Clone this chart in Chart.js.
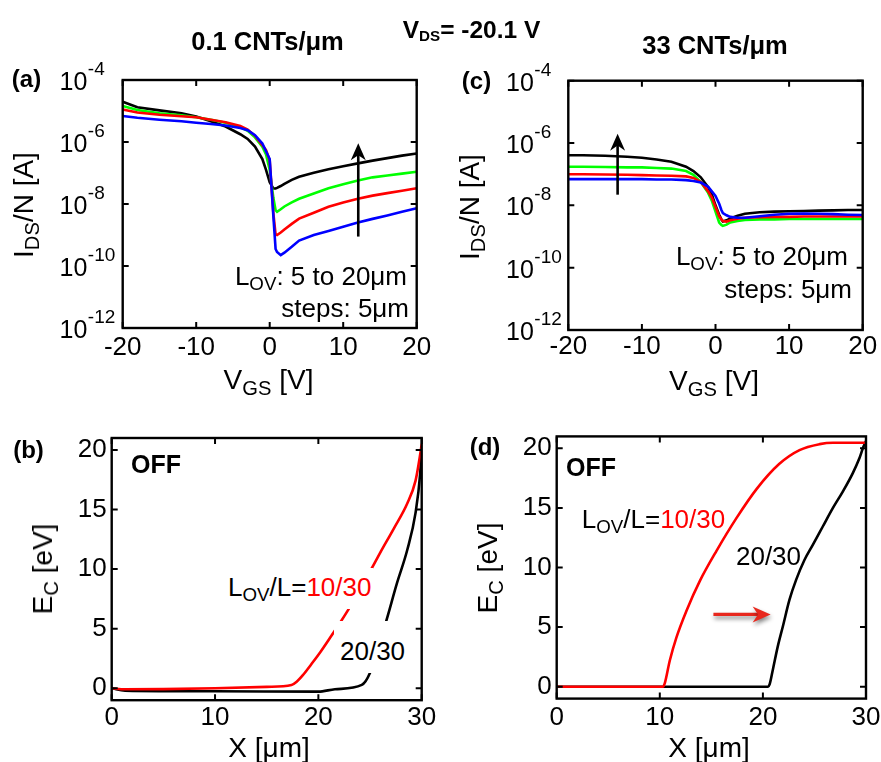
<!DOCTYPE html>
<html>
<head>
<meta charset="utf-8">
<title>CNT TFT transfer curves and band profiles</title>
<script src="https://cdn.jsdelivr.net/npm/chart.js@4.4.1/dist/chart.umd.min.js"></script>
<style>
html,body{margin:0;padding:0;background:#fff;}
#wrap{position:relative;width:881px;height:762px;overflow:hidden;background:#fff;font-family:"Liberation Sans",Arial,Helvetica,sans-serif;color:#000;}
#wrap canvas{position:absolute;left:0;top:0;}
.t{position:absolute;white-space:nowrap;line-height:1;}
.sub{font-size:0.72em;position:relative;top:0.28em;}
.sub2{font-size:0.62em;position:relative;top:0.22em;}
</style>
</head>
<body>
<div id="wrap">
<canvas id="cA" width="881" height="762"></canvas>
<canvas id="cB" width="881" height="762"></canvas>
<canvas id="cC" width="881" height="762"></canvas>
<canvas id="cD" width="881" height="762"></canvas>
</div>
<script>
// ================= DATA =================
// Panels (a) and (c): gate voltage V_GS [V]
const vgs = [-20,-18,-15,-12,-10,-8,-6,-4,-3,-2,-1,-0.5,0,0.5,0.8,1,1.5,2,3,4,6,8,10,12,14,16,18,20];
// log10 of I_DS/N [A]; series L_OV = 5 (blue), 10 (red), 15 (green), 20 um (black)
// (a) 0.1 CNTs/um
const aBlueLog  = [-5.16,-5.22,-5.28,-5.33,-5.38,-5.42,-5.47,-5.55,-5.62,-5.78,-6.05,-6.30,-6.55,-8.40,-9.45,-9.55,-9.65,-9.57,-9.38,-9.18,-9.00,-8.87,-8.73,-8.60,-8.48,-8.37,-8.25,-8.14];
const aRedLog   = [-4.95,-5.05,-5.12,-5.17,-5.20,-5.28,-5.36,-5.48,-5.60,-5.80,-6.10,-6.26,-6.60,-8.30,-8.98,-9.00,-8.92,-8.82,-8.64,-8.47,-8.28,-8.09,-7.95,-7.83,-7.73,-7.65,-7.57,-7.49];
const aGreenLog = [-4.84,-4.97,-5.07,-5.14,-5.20,-5.28,-5.38,-5.52,-5.64,-5.85,-6.15,-6.40,-6.90,-7.80,-8.20,-8.25,-8.17,-8.08,-7.95,-7.83,-7.66,-7.49,-7.36,-7.24,-7.14,-7.08,-7.02,-6.96];
const aBlackLog = [-4.70,-4.88,-4.98,-5.07,-5.18,-5.33,-5.50,-5.75,-5.90,-6.15,-6.55,-6.90,-7.30,-7.50,-7.50,-7.48,-7.42,-7.35,-7.22,-7.12,-6.99,-6.88,-6.78,-6.69,-6.60,-6.52,-6.44,-6.37];
// (c) 33 CNTs/um
const cBlueLog  = [-7.16,-7.16,-7.16,-7.16,-7.16,-7.17,-7.17,-7.19,-7.22,-7.27,-7.40,-7.55,-7.70,-7.95,-8.15,-8.25,-8.32,-8.37,-8.40,-8.40,-8.35,-8.30,-8.27,-8.26,-8.27,-8.28,-8.30,-8.31];
const cRedLog   = [-7.00,-7.00,-7.01,-7.02,-7.03,-7.04,-7.05,-7.07,-7.12,-7.25,-7.55,-7.75,-8.05,-8.35,-8.45,-8.50,-8.52,-8.48,-8.43,-8.40,-8.38,-8.37,-8.37,-8.36,-8.36,-8.36,-8.36,-8.36];
const cGreenLog = [-6.76,-6.76,-6.77,-6.78,-6.78,-6.80,-6.82,-6.90,-7.02,-7.25,-7.60,-7.85,-8.20,-8.55,-8.63,-8.66,-8.62,-8.55,-8.50,-8.47,-8.45,-8.45,-8.44,-8.44,-8.44,-8.44,-8.44,-8.44];
const cBlackLog = [-6.39,-6.39,-6.41,-6.44,-6.47,-6.53,-6.60,-6.76,-6.90,-7.10,-7.42,-7.65,-8.00,-8.30,-8.45,-8.52,-8.48,-8.42,-8.33,-8.27,-8.22,-8.20,-8.19,-8.18,-8.17,-8.16,-8.15,-8.15];
// (b) 0.1 CNTs/um, OFF state: E_C [eV] vs X [um]
const bRedX   = [0,1.3,5,10,15,17.4,17.9,18.5,19.3,20.2,21.1,22.1,22.9,24.0,25.0,26.0,27.3,28.6,29.4,29.85,30];
const bRedE   = [0,-0.08,-0.07,0,0.12,0.28,0.55,1.1,2.0,3.05,4.2,5.5,6.6,8.2,9.8,11.4,13.4,15.5,17.4,19.6,20.5];
const bBlackX = [0,1.3,10,20,21.6,24.2,25.0,25.5,26.0,26.5,27.6,28.6,29.4,29.85,30];
const bBlackE = [0,-0.2,-0.25,-0.28,-0.08,0.28,1.3,2.7,4.1,5.45,8.8,11.6,14.7,18.0,20.3];
// (d) 33 CNTs/um, OFF state
const dRedX   = [0,10.3,10.48,10.97,11.6,12.6,13.9,15.5,17.4,19.4,21.6,23.55,25.5,26.8,30];
const dRedE   = [0,0,0.28,2.2,4.1,6.4,8.9,11.4,14.1,16.6,18.7,19.85,20.35,20.47,20.47];
const dBlackX = [0,20.5,20.65,20.97,21.45,21.94,22.58,23.23,24.04,24.84,25.81,26.78,27.75,28.71,29.36,29.75,30];
const dBlackE = [0,0,0.19,1.45,3.4,5.07,7.3,8.98,10.65,11.9,13.44,14.98,16.37,17.9,19.16,20.13,20.6];
// tick values / labels
const vgsTicks = [-20,-10,0,10,20];
const logTicks = [1e-12,1e-10,1e-8,1e-6,1e-4];
const logTickExp = ['-12','-10','-8','-6','-4'];
const xTicks = [0,10,20,30];
const ecTicks = [0,5,10,15,20];
// annotation arrows (data coordinates)
const arrowA = {x1:12.05, y1:8.9e-10, x2:12.05, y2:9.1e-7};
const arrowC = {x1:-13.3, y1:2.2e-8, x2:-13.3, y2:2.0e-6};
const arrowD = {x1:15.2, y1:6.06, x2:20.75, y2:6.06};

// ================= helpers =================
const FONT = '"Liberation Sans", Arial, Helvetica, sans-serif';
Chart.defaults.font.family = FONT;
Chart.defaults.color = '#000';

function drawArrow(ctx, x1, y1, x2, y2, color, lw, hl, hw, shadow) {
  const ang = Math.atan2(y2 - y1, x2 - x1);
  ctx.save();
  if (shadow) { ctx.shadowColor = 'rgba(0,0,0,0.45)'; ctx.shadowBlur = 4; ctx.shadowOffsetX = 1; ctx.shadowOffsetY = 3; }
  ctx.strokeStyle = color; ctx.fillStyle = color; ctx.lineWidth = lw; ctx.lineCap = 'butt';
  ctx.beginPath(); ctx.moveTo(x1, y1);
  ctx.lineTo(x2 - Math.cos(ang) * hl * 0.6, y2 - Math.sin(ang) * hl * 0.6); ctx.stroke();
  ctx.translate(x2, y2); ctx.rotate(ang);
  ctx.beginPath(); ctx.moveTo(0, 0); ctx.lineTo(-hl, -hw); ctx.lineTo(-hl * 0.7, 0); ctx.lineTo(-hl, hw); ctx.closePath(); ctx.fill();
  ctx.restore();
}

const framePlugin = {
  id: 'frame',
  afterDatasetsDraw(chart, args, opts) {
    const ctx = chart.ctx, a = chart.chartArea, xs = chart.scales.x, ys = chart.scales.y;
    ctx.save();
    ctx.strokeStyle = '#000';
    ctx.lineWidth = 2.4;
    ctx.strokeRect(a.left, a.top, a.right - a.left, a.bottom - a.top);
    ctx.lineWidth = 2;
    const tl = 6;
    ctx.beginPath();
    xs.ticks.forEach(t => {
      const p = xs.getPixelForValue(t.value);
      ctx.moveTo(p, a.bottom); ctx.lineTo(p, a.bottom - tl);
      ctx.moveTo(p, a.top); ctx.lineTo(p, a.top + tl);
    });
    ys.ticks.forEach(t => {
      const p = ys.getPixelForValue(t.value);
      ctx.moveTo(a.left, p); ctx.lineTo(a.left + tl, p);
      ctx.moveTo(a.right, p); ctx.lineTo(a.right - tl, p);
    });
    ctx.stroke();
    if (opts.logLabels) {
      ctx.fillStyle = '#000'; ctx.textAlign = 'left'; ctx.textBaseline = 'alphabetic';
      ys.ticks.forEach((t, i) => {
        const p = ys.getPixelForValue(t.value);
        ctx.font = '25px ' + FONT;
        ctx.fillText('10', opts.logLabels, p + 10);
        const w = ctx.measureText('10').width;
        ctx.font = '19px ' + FONT;
        ctx.fillText(logTickExp[i], opts.logLabels + w + 0.5, p - 5);
      });
    }
    (opts.arrows || []).forEach(ar => {
      drawArrow(ctx, xs.getPixelForValue(ar.x1), ys.getPixelForValue(ar.y1),
        xs.getPixelForValue(ar.x2), ys.getPixelForValue(ar.y2),
        ar.color, ar.lw, ar.hl, ar.hw, ar.shadow);
    });
    ctx.restore();
  }
};

function series(xv, yv, color, isLog) {
  return {
    data: xv.map((x, i) => ({x: x, y: isLog ? Math.pow(10, yv[i]) : yv[i]})),
    borderColor: color, backgroundColor: color, borderWidth: 2.6,
    pointRadius: 0, fill: false, clip: 0
  };
}

function makeChart(id, datasets, area, xCfg, yCfg, frameOpts, smooth) {
  // area = [left, top, right, bottom] of the plot box in page pixels
  const XH = 40, YW = yCfg.labels ? 50 : 0;
  const pad = {left: area[0] - YW, top: area[1], right: 881 - area[2], bottom: 762 - area[3] - XH};
  return new Chart(document.getElementById(id), {
    type: 'line',
    data: {datasets: datasets},
    options: {
      responsive: false, animation: false, devicePixelRatio: 1, events: [],
      layout: {padding: pad},
      elements: {line: {tension: smooth ? 0.35 : 0, cubicInterpolationMode: smooth ? 'monotone' : 'default'}},
      plugins: {legend: {display: false}, tooltip: {enabled: false}, frame: frameOpts},
      scales: {
        x: {
          type: 'linear', position: 'bottom', min: xCfg.min, max: xCfg.max,
          grid: {display: false, drawTicks: false}, border: {display: false},
          ticks: {font: {size: 26}, padding: xCfg.pad, maxRotation: 0, autoSkip: false, color: '#000'},
          afterBuildTicks: s => { s.ticks = xCfg.ticks.map(v => ({value: v})); },
          afterFit: s => { s.height = XH; s.paddingLeft = 0; s.paddingRight = 0; }
        },
        y: {
          type: yCfg.type, position: 'left', min: yCfg.min, max: yCfg.max,
          grid: {display: false, drawTicks: false}, border: {display: false},
          ticks: {display: !!yCfg.labels, font: {size: 26}, padding: 5, autoSkip: false, color: '#000'},
          afterBuildTicks: s => { s.ticks = yCfg.ticks.map(v => ({value: v})); },
          afterFit: s => { s.width = YW; s.paddingTop = 0; s.paddingBottom = 0; }
        }
      }
    },
    plugins: [framePlugin]
  });
}

// ================= charts =================
makeChart('cA', [
  series(vgs, aBlueLog, '#0000ff', true),
  series(vgs, aRedLog, '#ff0000', true),
  series(vgs, aGreenLog, '#00ff00', true),
  series(vgs, aBlackLog, '#000000', true)
], [122.7, 80, 416.7, 328],
  {min: -20, max: 20, ticks: vgsTicks, pad: 4},
  {type: 'logarithmic', min: 1e-12, max: 1e-4, ticks: logTicks, labels: false},
  {logLabels: 59.5, arrows: [Object.assign({color: '#000', lw: 2.6, hl: 17, hw: 7.5}, arrowA)]}, false);

makeChart('cC', [
  series(vgs, cBlueLog, '#0000ff', true),
  series(vgs, cRedLog, '#ff0000', true),
  series(vgs, cGreenLog, '#00ff00', true),
  series(vgs, cBlackLog, '#000000', true)
], [568.3, 80.7, 862.7, 330],
  {min: -20, max: 20, ticks: vgsTicks, pad: 1.5},
  {type: 'logarithmic', min: 1e-12, max: 1e-4, ticks: logTicks, labels: false},
  {logLabels: 506, arrows: [Object.assign({color: '#000', lw: 2.6, hl: 17, hw: 7.5}, arrowC)]}, false);

makeChart('cB', [
  series(bRedX, bRedE, '#ff0000', false),
  series(bBlackX, bBlackE, '#000000', false)
], [111.7, 438, 421.7, 700.2],
  {min: 0, max: 30, ticks: xTicks, pad: 2.5},
  {type: 'linear', min: -1, max: 21, ticks: ecTicks, labels: true},
  {}, true);

makeChart('cD', [
  series(dRedX, dRedE, '#ff0000', false),
  series(dBlackX, dBlackE, '#000000', false)
], [556.7, 436.4, 866, 698.6],
  {min: 0, max: 30, ticks: xTicks, pad: 4},
  {type: 'linear', min: -1, max: 21, ticks: ecTicks, labels: true},
  {arrows: [Object.assign({color: '#e8281e', lw: 3.2, hl: 18, hw: 8, shadow: true}, arrowD)]}, true);

// ================= text =================
const wrap = document.getElementById('wrap');
function addText(html, x, y, o) {
  o = o || {};
  const d = document.createElement('div');
  d.className = 't';
  d.innerHTML = html;
  d.style.fontSize = (o.size || 26) + 'px';
  if (o.bold) d.style.fontWeight = 'bold';
  if (o.color) d.style.color = o.color;
  d.style.left = x + 'px';
  d.style.top = y + 'px';
  if (o.box) {
    d.style.background = '#fff';
    d.style.padding = o.box;
  } else {
    const ax = o.align === 'right' ? '-100%' : (o.align === 'left' ? '0' : '-50%');
    d.style.transform = 'translate(' + ax + ',-50%)' + (o.rot ? ' rotate(-90deg)' : '');
  }
  wrap.appendChild(d);
}
const R = '<span style="color:#ff0000">';
// headers
addText('0.1 CNTs/μm', 267.5, 41.7, {size: 25.5, bold: true});
addText('V<span class="sub2">DS</span>= -20.1 V', 471.5, 30, {size: 24.5, bold: true});
addText('33 CNTs/μm', 715, 46, {size: 25.5, bold: true});
// panel letters
addText('(a)', 26.5, 79, {size: 24, bold: true});
addText('(c)', 476.5, 81, {size: 24, bold: true});
addText('(b)', 28.5, 450, {size: 24, bold: true});
addText('(d)', 485, 447, {size: 24, bold: true});
// axis titles
addText('I<span class="sub">DS</span>/N [A]', 24, 205, {size: 28, rot: true});
addText('I<span class="sub">DS</span>/N [A]', 470, 207, {size: 28, rot: true});
addText('V<span class="sub">GS</span> [V]', 268.5, 380, {size: 28});
addText('V<span class="sub">GS</span> [V]', 714, 381, {size: 28});
addText('E<span class="sub">C</span> [eV]', 42.5, 569, {size: 28, rot: true});
addText('E<span class="sub">C</span> [eV]', 487.5, 568, {size: 28, rot: true});
addText('X [μm]', 269, 748, {size: 28});
addText('X [μm]', 709, 748, {size: 28});
// annotations (a), (c)
addText('L<span class="sub">OV</span>: 5 to 20μm', 407, 276, {size: 26, align: 'right'});
addText('steps: 5μm', 409, 307.5, {size: 26, align: 'right'});
addText('L<span class="sub">OV</span>: 5 to 20μm', 848, 256, {size: 26, align: 'right'});
addText('steps: 5μm', 852, 288.5, {size: 26, align: 'right'});
// annotations (b)
addText('OFF', 156, 464, {size: 25, bold: true});
addText('L<span class="sub">OV</span>/L=' + R + '10/30</span>', 226, 568, {size: 26, box: '6px 2px 9px 2px'});
addText('20/30', 334, 621, {size: 26, box: '17px 3px 9px 6px'});
// annotations (d)
addText('OFF', 591, 467, {size: 25, bold: true});
addText('L<span class="sub">OV</span>/L=' + R + '10/30</span>', 653.5, 518.5, {size: 26});
addText('20/30', 768.5, 556, {size: 26});
</script>
</body>
</html>
